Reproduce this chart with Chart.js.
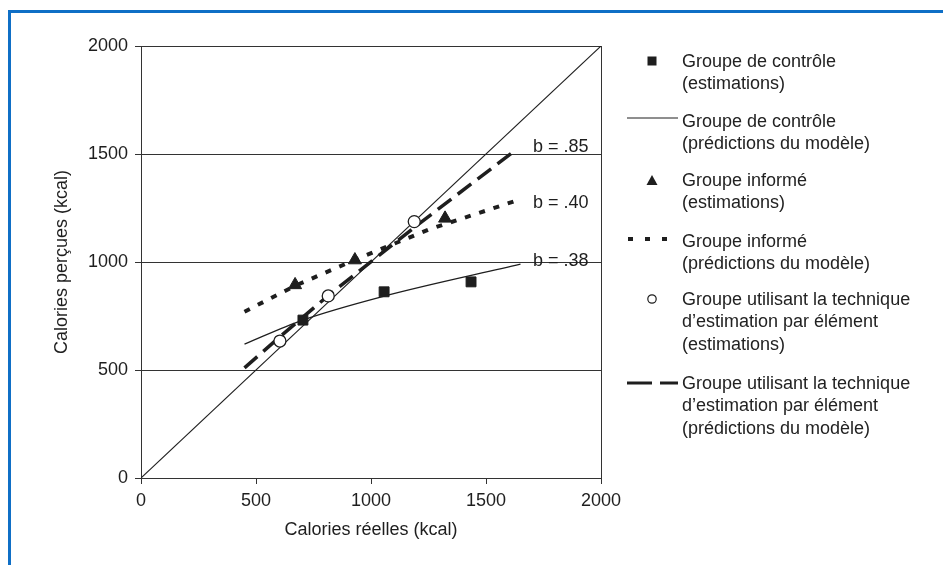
<!DOCTYPE html>
<html>
<head>
<meta charset="utf-8">
<script src="https://cdn.jsdelivr.net/npm/chart.js@4.4.1/dist/chart.umd.min.js"></script>
<style>
  html, body { margin: 0; padding: 0; background: #fff; }
  body { width: 943px; height: 565px; position: relative; overflow: hidden; font-family: "Liberation Sans", Arial, sans-serif; color: #222; }
  #frame { position: absolute; left: 8px; top: 10px; width: 960px; height: 600px; border-left: 3px solid #0f6fc6; border-top: 3px solid #0f6fc6; }
  #wrap { position: absolute; left: 0; top: 0; width: 943px; height: 565px; }
  .entry { position: absolute; left: 682px; font-size: 18px; line-height: 22.5px; white-space: nowrap; }
  .sym { position: absolute; }
</style>
</head>
<body>
<div id="frame"></div>
<div id="wrap"><canvas id="chart" width="943" height="565"></canvas></div>
<div id="legend"></div>
<script>
// axis ticks
const tickValues = [0, 500, 1000, 1500, 2000];

// Groupe de contrôle
const controlX = [704, 1057, 1435];
const controlY = [731, 862, 908];
const controlModelX = [450, 700, 1050, 1650];
const controlModelY = [620, 730, 840, 990];

// Groupe informé
const informedX = [670, 930, 1322];
const informedY = [894, 1009, 1202];
const informedModelX = [450, 670, 930, 1250, 1620];
const informedModelY = [770, 890, 1010, 1150, 1280];

// Groupe utilisant la technique d'estimation par élément
const itemX = [604, 814, 1188];
const itemY = [634, 843, 1187];
const itemModelX = [450, 600, 820, 1200, 1625];
const itemModelY = [510, 650, 850, 1170, 1515];

// diagonale y = x
const identityX = [0, 2000];
const identityY = [0, 2000];

// étiquettes des pentes
const slopeLabels = ['b = .85', 'b = .40', 'b = .38'];
const slopeLabelX = [1704, 1704, 1704];
const slopeLabelY = [1509, 1250, 981];

const legendEntries = [
  { lines: ['Groupe de contrôle', '(estimations)'], sym: 'square' },
  { lines: ['Groupe de contrôle', '(prédictions du modèle)'], sym: 'solid' },
  { lines: ['Groupe informé', '(estimations)'], sym: 'triangle' },
  { lines: ['Groupe informé', '(prédictions du modèle)'], sym: 'dotted' },
  { lines: ['Groupe utilisant la technique', 'd\u2019estimation par élément', '(estimations)'], sym: 'circle' },
  { lines: ['Groupe utilisant la technique', 'd\u2019estimation par élément', '(prédictions du modèle)'], sym: 'dashed' }
];
const legendTop = [61, 121, 180, 241, 299, 383];

function pts(xs, ys) {
  return xs.map(function (x, i) { return { x: x, y: ys[i] }; });
}

const ink = '#1e1e1e';
const gridInk = '#333';
const font = { family: '"Liberation Sans", Arial, sans-serif', size: 18 };

const slopeText = {
  id: 'slopeText',
  afterDatasetsDraw(chart) {
    const ctx = chart.ctx;
    const xs = chart.scales.x, ys = chart.scales.y;
    ctx.save();
    ctx.fillStyle = ink;
    ctx.font = '18px "Liberation Sans", Arial, sans-serif';
    ctx.textAlign = 'left';
    ctx.textBaseline = 'alphabetic';
    slopeLabels.forEach(function (t, i) {
      ctx.fillText(t, xs.getPixelForValue(slopeLabelX[i]), ys.getPixelForValue(slopeLabelY[i]));
    });
    ctx.restore();
  }
};

new Chart(document.getElementById('chart'), {
  type: 'scatter',
  data: {
    datasets: [
      { label: 'circles', data: pts(itemX, itemY), pointStyle: 'circle', pointRadius: 6,
        backgroundColor: '#fff', borderColor: ink, borderWidth: 1.3 },
      { label: 'triangles', data: pts(informedX, informedY), pointStyle: 'triangle', pointRadius: 7.5,
        backgroundColor: ink, borderColor: ink, borderWidth: 1 },
      { label: 'squares', data: pts(controlX, controlY), pointStyle: 'rect', pointRadius: 7,
        backgroundColor: ink, borderColor: ink, borderWidth: 1 },
      { label: 'item model', data: pts(itemModelX, itemModelY), showLine: true, pointRadius: 0,
        borderColor: ink, borderWidth: 3.5, borderDash: [17, 8] },
      { label: 'informed model', data: pts(informedModelX, informedModelY), showLine: true, pointRadius: 0,
        borderColor: ink, borderWidth: 4, borderDash: [6, 9] },
      { label: 'control model', data: pts(controlModelX, controlModelY), showLine: true, pointRadius: 0,
        borderColor: ink, borderWidth: 1.2, cubicInterpolationMode: 'monotone' },
      { label: 'identity', data: pts(identityX, identityY), showLine: true, pointRadius: 0,
        borderColor: ink, borderWidth: 1.1 }
    ]
  },
  options: {
    responsive: false,
    animation: false,
    events: [],
    layout: { padding: { top: 46, left: 0, right: 0, bottom: 0 } },
    plugins: { legend: { display: false }, tooltip: { enabled: false } },
    scales: {
      x: {
        type: 'linear', min: 0, max: 2000,
        afterBuildTicks: function (s) { s.ticks = tickValues.map(function (v) { return { value: v }; }); },
        afterFit: function (s) { s.height = 87; },
        ticks: { color: ink, font: font, padding: 6, maxRotation: 0, callback: function (v) { return String(v); } },
        grid: { drawOnChartArea: false, drawTicks: true, tickLength: 6, tickColor: gridInk },
        border: { display: true, color: gridInk, width: 1 },
        title: { display: true, text: 'Calories réelles (kcal)', color: ink, font: font, padding: { top: 0, bottom: 24 } }
      },
      y: {
        type: 'linear', min: 0, max: 2000,
        afterBuildTicks: function (s) { s.ticks = tickValues.map(function (v) { return { value: v }; }); },
        afterFit: function (s) { s.width = 141; },
        ticks: { color: ink, font: font, padding: 7, callback: function (v) { return String(v); } },
        grid: { color: gridInk, lineWidth: 1, drawTicks: true, tickLength: 6, tickColor: gridInk },
        border: { display: true, color: gridInk, width: 1 },
        title: { display: true, text: 'Calories perçues (kcal)', color: ink, font: font, padding: { top: 51, bottom: 0 } }
      },
      y2: {
        type: 'linear', position: 'right', min: 0, max: 2000,
        afterFit: function (s) { s.width = 342; },
        ticks: { display: false },
        grid: { display: false, drawTicks: false },
        border: { display: true, color: gridInk, width: 1 }
      }
    }
  },
  plugins: [slopeText]
});

// légende à droite
const legend = document.getElementById('legend');
const symX = 652;
legendEntries.forEach(function (e, i) {
  const cy = legendTop[i];
  const div = document.createElement('div');
  div.className = 'entry';
  div.style.top = (cy - 11.25) + 'px';
  div.innerHTML = e.lines.join('<br>');
  legend.appendChild(div);

  let svg = '';
  if (e.sym === 'square') {
    svg = '<rect x="' + (symX - 4.5) + '" y="' + (cy - 4.5) + '" width="9" height="9" fill="' + ink + '"/>';
  } else if (e.sym === 'triangle') {
    svg = '<polygon points="' + (symX - 5.5) + ',' + (cy + 5) + ' ' + (symX + 5.5) + ',' + (cy + 5) + ' ' + symX + ',' + (cy - 5) + '" fill="' + ink + '"/>';
  } else if (e.sym === 'circle') {
    svg = '<circle cx="' + symX + '" cy="' + cy + '" r="4.2" fill="#fff" stroke="' + ink + '" stroke-width="1.2"/>';
  } else if (e.sym === 'solid') {
    svg = '<line x1="627" y1="' + (cy - 3) + '" x2="678" y2="' + (cy - 3) + '" stroke="' + ink + '" stroke-width="1"/>';
  } else if (e.sym === 'dotted') {
    svg = '<line x1="628" y1="' + (cy - 2) + '" x2="670" y2="' + (cy - 2) + '" stroke="' + ink + '" stroke-width="4" stroke-dasharray="5 12"/>';
  } else if (e.sym === 'dashed') {
    svg = '<line x1="627" y1="' + cy + '" x2="678" y2="' + cy + '" stroke="' + ink + '" stroke-width="3" stroke-dasharray="25 8"/>';
  }
  const s = document.createElementNS('http://www.w3.org/2000/svg', 'svg');
  s.setAttribute('class', 'sym');
  s.setAttribute('width', '943');
  s.setAttribute('height', '565');
  s.style.left = '0px';
  s.style.top = '0px';
  s.innerHTML = svg;
  legend.appendChild(s);
});
</script>
</body>
</html>
